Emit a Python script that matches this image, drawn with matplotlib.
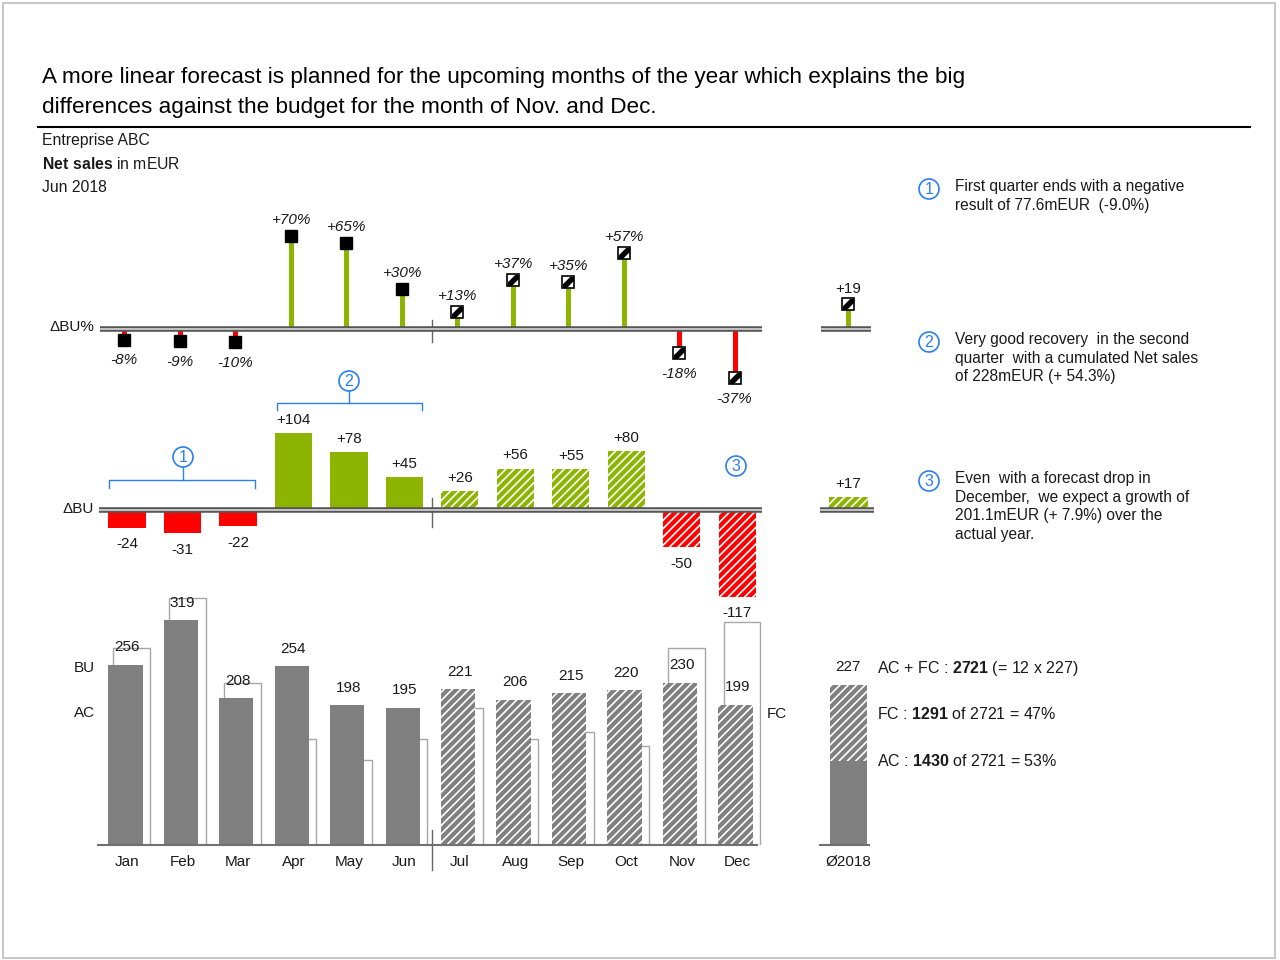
import matplotlib
matplotlib.use("Agg")
import matplotlib.pyplot as plt
import numpy as np
from matplotlib.path import Path
from matplotlib.patches import Circle, Rectangle

plt.rcParams['font.family'] = ['Liberation Sans', 'DejaVu Sans']
plt.rcParams['mathtext.fontset'] = 'custom'
plt.rcParams['mathtext.rm'] = 'Liberation Sans'
plt.rcParams['mathtext.bf'] = 'Liberation Sans:bold'
plt.rcParams['hatch.linewidth'] = 1.2

# data
months = ["Jan", "Feb", "Mar", "Apr", "May", "Jun",
          "Jul", "Aug", "Sep", "Oct", "Nov", "Dec"]
n_actual = 6  # Jan-Jun actual, Jul-Dec forecast
ac_fc = [256, 319, 208, 254, 198, 195, 221, 206, 215, 220, 230, 199]
budget = [280, 350, 230, 150, 120, 150, 195, 150, 160, 140, 280, 316]
delta_bu = [-24, -31, -22, 104, 78, 45, 26, 56, 55, 80, -50, -117]
delta_pct = [-8, -9, -10, 70, 65, 30, 13, 37, 35, 57, -18, -37]
total_label = "Ø2018"
avg_total = 227
avg_ac = 1430 / 12
avg_delta = 17
avg_delta_pct = 19

GREEN = '#8cb400'
RED = '#ff0000'
GREY = '#808080'
BLUE = '#2a7ff0'
TXT = '#1a1a1a'

W, H = 1280, 960
X0, DX = 127, 55.48          # pixel x of Jan, pixel step per month
AX_L, AX_R = 95, 885
SUM_X = 13                   # position of the summary column
PIN_SHIFT = -0.05

fig = plt.figure(figsize=(W / 100, H / 100), dpi=100)

# overlay in pixel coordinates for header, notes and decorations
ov = fig.add_axes([0, 0, 1, 1])
ov.set_xlim(0, W)
ov.set_ylim(H, 0)
ov.axis('off')


def panel(top, bottom):
    ax = fig.add_axes([AX_L / W, 1 - bottom / H, (AX_R - AX_L) / W, (bottom - top) / H])
    ax.set_xlim((AX_L - X0) / DX, (AX_R - X0) / DX)
    ax.patch.set_visible(False)
    for s in ax.spines.values():
        s.set_visible(False)
    ax.set_xticks([])
    ax.set_yticks([])
    return ax


def px(p):
    return (p - X0) / DX


def double_base(ax, x0, x1):
    ax.plot([x0, x1], [0, 0], color='#555555', lw=4, solid_capstyle='butt', zorder=3)
    ax.plot([x0, x1], [0, 0], color='#d9d9d9', lw=1.2, solid_capstyle='butt', zorder=4)


band = Path([(-1, -1), (-0.3, -1), (1, 0.3), (1, 1), (0.3, 1), (-1, -0.3), (-1, -1)],
            [Path.MOVETO] + [Path.LINETO] * 5 + [Path.CLOSEPOLY])


def pin(ax, x, v, hatched):
    col = GREEN if v > 0 else RED
    ax.plot([x, x], [0, v], color=col, lw=3.6, solid_capstyle='butt', zorder=2)
    if hatched:
        ax.plot(x, v, marker='s', ms=8, mfc='white', mec='black', mew=1.2, zorder=5)
        ax.plot(x, v, marker=band, ms=8, mfc='black', mec='black', mew=0, zorder=6)
    else:
        ax.plot(x, v, marker='s', ms=8.5, mfc='black', mec='black', zorder=5)


def hatched_bar(ax, xpos, height, col, width, bottom=0):
    # coloured bar with thin white stripes
    ax.bar(xpos, height, width=width, bottom=bottom, facecolor=col, edgecolor='white',
           hatch='////', lw=0, zorder=2)


x = np.arange(len(months))

# ---- ΔBU% pins
base1, sc1 = 329, 1.33
ax1 = panel(195, 395)
ax1.set_ylim(-(395 - base1) / sc1, (base1 - 195) / sc1)
double_base(ax1, px(100), px(762))
double_base(ax1, px(821), px(871))
ax1.plot([5.5, 5.5], [9 / sc1, -13 / sc1], color='#666666', lw=1)
for i, v in enumerate(delta_pct):
    pin(ax1, i + PIN_SHIFT, v, i >= n_actual)
    ax1.annotate(f"{v:+d}%", (i + PIN_SHIFT, v), xytext=(0, 11.5 if v > 0 else -15),
                 textcoords='offset points', ha='center', va='center',
                 style='italic', fontsize=11, color=TXT)
pin(ax1, SUM_X, avg_delta_pct, True)
ax1.annotate(f"{avg_delta_pct:+d}", (SUM_X, avg_delta_pct), xytext=(0, 10.5),
             textcoords='offset points', ha='center', va='center', fontsize=11, color=TXT)

# ---- ΔBU bars
base2, sc2 = 510, 0.74
ax2 = panel(395, 620)
ax2.set_ylim(-(620 - base2) / sc2, (base2 - 395) / sc2)
double_base(ax2, px(99), px(762))
double_base(ax2, px(820), px(874))
ax2.plot([5.5, 5.5], [12 / sc2, -17 / sc2], color='#666666', lw=1)
for i, v in enumerate(delta_bu):
    col = GREEN if v > 0 else RED
    if i < n_actual:
        ax2.bar(i, v, width=0.67, color=col, lw=0, zorder=2)
    else:
        hatched_bar(ax2, i, v, col, 0.67)
    ax2.annotate(f"{v:+d}" if v > 0 else f"{v:d}", (i, v),
                 xytext=(0, 9.5 if v > 0 else -12), textcoords='offset points',
                 ha='center', va='center', fontsize=11, color=TXT)
hatched_bar(ax2, SUM_X, avg_delta, GREEN, 0.7)
ax2.annotate(f"{avg_delta:+d}", (SUM_X, avg_delta), xytext=(0, 9.5),
             textcoords='offset points', ha='center', va='center', fontsize=11, color=TXT)

# ---- AC / FC vs BU
base3, sc3 = 845, 0.705
ax3 = panel(590, 845)
ax3.set_ylim(0, (base3 - 590) / sc3)
ax3.bar(x + 0.085, budget, width=0.66, facecolor='white', edgecolor='#a6a6a6',
        lw=1, zorder=1)
ax3.bar(x[:n_actual] - 0.03, ac_fc[:n_actual], width=0.62, color=GREY, lw=0, zorder=2)
hatched_bar(ax3, x[n_actual:] - 0.03, ac_fc[n_actual:], GREY, 0.62)
for i, v in enumerate(ac_fc):
    ax3.annotate(str(v), (i, v), xytext=(0, 12.5), textcoords='offset points',
                 ha='center', va='center', fontsize=11, color=TXT, zorder=4)
ax3.bar(SUM_X, avg_ac, width=0.67, color=GREY, lw=0, zorder=2)
hatched_bar(ax3, SUM_X, avg_total - avg_ac, GREY, 0.67, bottom=avg_ac)
ax3.annotate(str(avg_total), (SUM_X, avg_total), xytext=(0, 13),
             textcoords='offset points', ha='center', va='center', fontsize=11, color=TXT)
ax3.plot([px(98), px(757)], [0, 0], color='#707070', lw=1.5, clip_on=False, zorder=3)
ax3.plot([px(820), px(869)], [0, 0], color='#707070', lw=1.5, clip_on=False, zorder=3)
ax3.plot([5.5, 5.5], [15 / sc3, -25 / sc3], color='#666666', lw=1, clip_on=False)
ax3.set_xticks(list(x) + [SUM_X])
ax3.set_xticklabels(months + [total_label], fontsize=11, color=TXT)
ax3.tick_params(axis='x', length=0, pad=7)

# ---- header
ov.text(42, 78, "A more linear forecast is planned for the upcoming months of the year which explains the big",
        fontsize=16.2, color='black', va='center', ha='left')
ov.text(42, 107, "differences against the budget for the month of Nov. and Dec.",
        fontsize=16.2, color='black', va='center', ha='left')
ov.plot([38, 1250], [127, 127], color='black', lw=1.5)
ov.text(42, 140, "Entreprise ABC", fontsize=11.3, color=TXT, va='center')
ov.text(42, 164, r"$\bf{Net\ sales}$ in mEUR", fontsize=11.3, color=TXT, va='center')
ov.text(42, 188, "Jun 2018", fontsize=11.3, color=TXT, va='center')
ov.add_patch(Rectangle((3, 3), 1272, 955, fill=False, ec='#c8c8c8', lw=1.5))

# ---- row labels
ov.text(94, 327, "ΔBU%", fontsize=11, color=TXT, ha='right', va='center')
ov.text(94, 509, "ΔBU", fontsize=11, color=TXT, ha='right', va='center')
ov.text(74, 668, "BU", fontsize=11, color=TXT, ha='left', va='center')
ov.text(74, 713, "AC", fontsize=11, color=TXT, ha='left', va='center')
ov.text(767, 714, "FC", fontsize=11, color=TXT, ha='left', va='center')

# ---- summary notes
ov.text(877, 669, r"AC + FC : $\bf{2721}$ (= 12 x 227)", fontsize=11.5, color=TXT, va='center')
ov.text(877, 714, r"FC : $\bf{1291}$ of 2721 = 47%", fontsize=11.5, color=TXT, va='center')
ov.text(877, 761, r"AC : $\bf{1430}$ of 2721 = 53%", fontsize=11.5, color=TXT, va='center')


def badge(cx, cy, num):
    ov.add_patch(Circle((cx, cy), 10, fill=False, ec=BLUE, lw=1.2))
    ov.text(cx, cy + 0.5, num, fontsize=11.5, color=BLUE, ha='center', va='center')


# brackets and markers inside the chart
ov.plot([109, 109, 255, 255], [488, 480, 480, 488], color=BLUE, lw=1)
ov.plot([183, 183], [480, 467], color=BLUE, lw=1)
badge(183, 457, "1")
ov.plot([277, 277, 422, 422], [410, 403, 403, 410], color=BLUE, lw=1)
ov.plot([349, 349], [403, 391], color=BLUE, lw=1)
badge(349, 381, "2")
badge(736, 466, "3")

# side comments
notes = [
    ("1", 189, "First quarter ends with a negative\nresult of 77.6mEUR  (-9.0%)"),
    ("2", 342, "Very good recovery  in the second\nquarter  with a cumulated Net sales\nof 228mEUR (+ 54.3%)"),
    ("3", 481, "Even  with a forecast drop in\nDecember,  we expect a growth of\n201.1mEUR (+ 7.9%) over the\nactual year."),
]
for num, cy, s in notes:
    badge(929, cy, num)
    ov.text(955, cy - 10, s, fontsize=11.2, color=TXT, ha='left', va='top', linespacing=1.3)

fig.savefig("out.png", dpi=100, facecolor='white')
